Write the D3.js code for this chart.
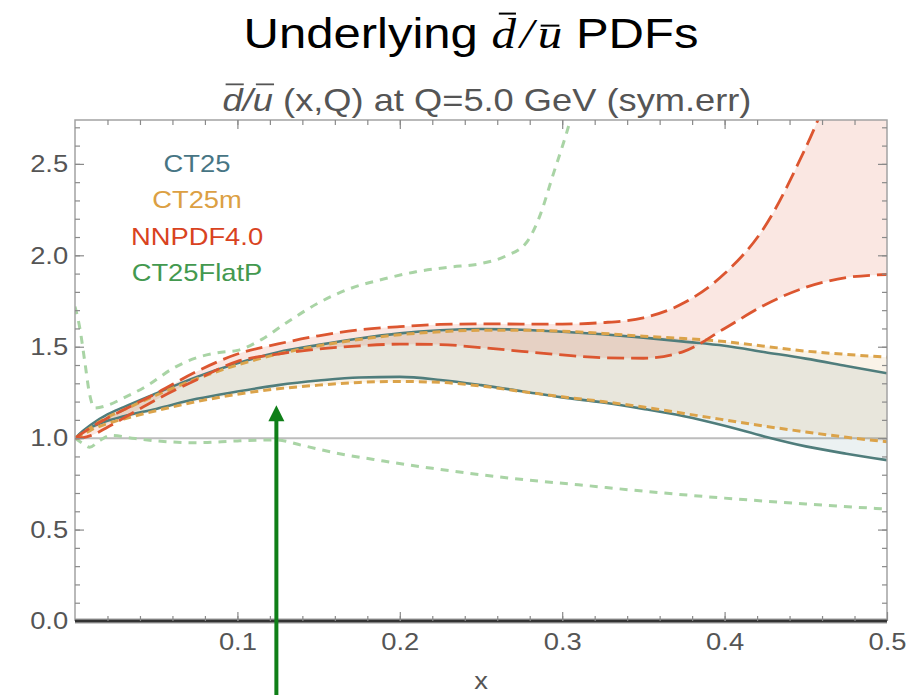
<!DOCTYPE html>
<html>
<head>
<meta charset="utf-8">
<script src="https://cdn.jsdelivr.net/npm/d3@7"></script>
<style>
  html, body { margin: 0; padding: 0; background: #fff; }
  svg { display: block; }
</style>
</head>
<body>
<svg id="chart" width="924" height="695"></svg>
<script>
// ---- data: dbar/ubar ratio at Q = 5 GeV, symmetric error bands ----
const xGrid = [0, 0.005, 0.01, 0.02, 0.03, 0.05, 0.075, 0.1, 0.125, 0.15, 0.175, 0.2,
               0.225, 0.25, 0.275, 0.3, 0.325, 0.35, 0.375, 0.4, 0.425, 0.45, 0.475, 0.5];

const ct25Upper  = [1.0, 1.04, 1.075, 1.13, 1.17, 1.245, 1.335, 1.41, 1.47, 1.51, 1.545, 1.573,
                    1.59, 1.597, 1.593, 1.582, 1.568, 1.55, 1.528, 1.505, 1.47, 1.435, 1.395, 1.355];
const ct25Lower  = [1.0, 1.035, 1.06, 1.095, 1.12, 1.16, 1.215, 1.255, 1.29, 1.315, 1.332, 1.335,
                    1.318, 1.29, 1.257, 1.223, 1.195, 1.16, 1.12, 1.068, 1.008, 0.955, 0.915, 0.88];

const ct25mUpper = [1.0, 1.03, 1.06, 1.115, 1.155, 1.235, 1.325, 1.4, 1.46, 1.505, 1.54, 1.566,
                    1.582, 1.59, 1.59, 1.585, 1.573, 1.557, 1.545, 1.528, 1.502, 1.476, 1.458, 1.443];
const ct25mLower = [1.0, 1.02, 1.045, 1.08, 1.105, 1.15, 1.2, 1.24, 1.27, 1.29, 1.305, 1.31,
                    1.305, 1.285, 1.255, 1.226, 1.2, 1.17, 1.135, 1.1, 1.065, 1.034, 1.005, 0.98];

const nnpdfUpper = [1.0, 1.03, 1.06, 1.11, 1.155, 1.245, 1.365, 1.46, 1.515, 1.56, 1.592, 1.61,
                    1.622, 1.625, 1.624, 1.624, 1.632, 1.658, 1.74, 1.9, 2.16, 2.59, 3.1, 3.5];
const nnpdfLower = [1.0, 1.003, 1.015, 1.06, 1.11, 1.21, 1.32, 1.42, 1.46, 1.488, 1.505, 1.514,
                    1.512, 1.495, 1.475, 1.455, 1.44, 1.437, 1.475, 1.6, 1.73, 1.825, 1.878, 1.895];

const flatPUpperX = [0, 0.003, 0.006, 0.009, 0.012, 0.02, 0.03, 0.045, 0.06, 0.075, 0.09, 0.1,
                     0.115, 0.13, 0.15, 0.17, 0.19, 0.21, 0.23, 0.25, 0.265, 0.278, 0.286, 0.294, 0.305, 0.315];
const flatPUpper  = [1.72, 1.6, 1.42, 1.24, 1.165, 1.18, 1.22, 1.29, 1.38, 1.44, 1.47, 1.48,
                     1.54, 1.63, 1.74, 1.82, 1.87, 1.91, 1.935, 1.955, 1.995, 2.07, 2.21, 2.43, 2.74, 3.1];
const flatPLowerX = [0, 0.005, 0.009, 0.015, 0.022, 0.035, 0.05, 0.075, 0.1, 0.124, 0.14, 0.16,
                     0.19, 0.22, 0.25, 0.28, 0.31, 0.35, 0.4, 0.45, 0.5];
const flatPLower  = [1.0, 0.97, 0.95, 0.985, 1.015, 1.0, 0.985, 0.975, 0.985, 0.99, 0.96, 0.92,
                     0.875, 0.835, 0.8, 0.77, 0.745, 0.71, 0.672, 0.64, 0.612];

const legendLabels = ["CT25", "CT25m", "NNPDF4.0", "CT25FlatP"];
const yMajorTicks = [0, 0.5, 1.0, 1.5, 2.0, 2.5];
const xMajorTicks = [0.1, 0.2, 0.3, 0.4, 0.5];
const referenceLevel = 1.0;
const arrowX = 0.124, arrowTip = 1.18;

// ---- layout ----
const W = 924, H = 695;
const SANS = "'Liberation Sans', Arial, Helvetica, sans-serif";
const SERIF = "'Liberation Serif', 'Times New Roman', serif";
const STRETCH = 1.14;   // exported glyphs run slightly wide

const x = d3.scaleLinear().domain([0, 0.5]).range([75, 887]);
const y = d3.scaleLinear().domain([0, 2.74]).range([621, 120]);

const colors = {
  ct25: "#4f7d7c", ct25m: "#dba34a", nnpdf: "#dc5630", flat: "#a9d4a5",
  ct25Text: "#477584", ct25mText: "#dca043", nnpdfText: "#d9431f", flatText: "#43994f"
};

const svg = d3.select("#chart");

svg.append("defs").append("clipPath").attr("id", "plotClip")
  .append("rect")
  .attr("x", x(0)).attr("y", y(2.74))
  .attr("width", x(0.5) - x(0)).attr("height", y(0) - y(2.74));

// ---- titles ----
function stretchedText(parent, cx, baseline, size, fill, anchor, stretch) {
  const s = stretch || STRETCH;
  const g = parent.append("g").attr("transform", `translate(${cx},${baseline}) scale(${s},1)`);
  const t = g.append("text").attr("x", 0).attr("y", 0)
    .attr("font-family", SANS).attr("font-size", size).attr("fill", fill)
    .attr("text-anchor", anchor || "middle");
  return { g, t };
}

// main title with d-bar / u-bar in math italic
{
  const size = 43;
  const { g, t } = stretchedText(svg, 471, 48, size, "#000");
  t.append("tspan").text("Underlying ");
  t.append("tspan").attr("font-family", SERIF).attr("font-style", "italic").text("d\u200A/\u200Au");
  t.append("tspan").text(" PDFs");
  const node = t.node();
  const dExt = node.getExtentOfChar(11);
  const uExt = node.getExtentOfChar(15);
  g.append("line").attr("x1", dExt.x + 0.30 * dExt.width).attr("x2", dExt.x + 1.0 * dExt.width)
    .attr("y1", -0.80 * size).attr("y2", -0.80 * size).attr("stroke", "#000").attr("stroke-width", 2);
  g.append("line").attr("x1", uExt.x + 0.12 * uExt.width).attr("x2", uExt.x + 0.88 * uExt.width)
    .attr("y1", -0.52 * size).attr("y2", -0.52 * size).attr("stroke", "#000").attr("stroke-width", 2);
}

// plot label
{
  const size = 31;
  const { g, t } = stretchedText(svg, 487, 111, size, "#555", "middle", 1.17);
  t.append("tspan").attr("font-style", "italic").text("d");
  t.append("tspan").attr("font-style", "italic").text("/");
  t.append("tspan").attr("font-style", "italic").text("u");
  t.append("tspan").text(" (x,Q) at Q=5.0 GeV (sym.err)");
  const node = t.node();
  [0, 2].forEach(i => {
    const e = node.getExtentOfChar(i);
    g.append("line").attr("x1", e.x + 0.15 * e.width).attr("x2", e.x + 1.05 * e.width)
      .attr("y1", -0.86 * size).attr("y2", -0.86 * size)
      .attr("stroke", "#555").attr("stroke-width", 1.8);
  });
}

// ---- reference line at ratio 1 ----
svg.append("line")
  .attr("x1", x(0)).attr("x2", x(0.5))
  .attr("y1", y(referenceLevel)).attr("y2", y(referenceLevel))
  .attr("stroke", "#bdbdbd").attr("stroke-width", 2);

// ---- bands ----
const plot = svg.append("g").attr("clip-path", "url(#plotClip)");

function band(lower, upper, fill, opacity) {
  const area = d3.area().curve(d3.curveMonotoneX)
    .x((d, i) => x(xGrid[i])).y0((d, i) => y(lower[i])).y1((d, i) => y(upper[i]));
  plot.append("path").datum(xGrid).attr("d", area)
    .attr("fill", fill).attr("fill-opacity", opacity).attr("stroke", "none");
}
band(ct25Lower, ct25Upper, "#5b8f93", 0.12);
band(ct25mLower, ct25mUpper, "#d9a050", 0.13);
band(nnpdfLower, nnpdfUpper, "#dd5530", 0.14);

// ---- curves ----
function curve(xs, ys, color, width, dash) {
  const line = d3.line().curve(d3.curveMonotoneX)
    .x((d, i) => x(xs[i])).y((d, i) => y(ys[i]));
  const p = plot.append("path").datum(xs).attr("d", line)
    .attr("fill", "none").attr("stroke", color).attr("stroke-width", width);
  if (dash) p.attr("stroke-dasharray", dash);
  return p;
}
curve(flatPUpperX, flatPUpper, colors.flat, 3, "8,7");
curve(flatPLowerX, flatPLower, colors.flat, 3, "8,7");
curve(xGrid, ct25Upper, colors.ct25, 2.6);
curve(xGrid, ct25Lower, colors.ct25, 2.6);
curve(xGrid, ct25mUpper, colors.ct25m, 3, "8,5");
curve(xGrid, ct25mLower, colors.ct25m, 3, "8,5");
curve(xGrid, nnpdfUpper, colors.nnpdf, 2.8, "17,7");
curve(xGrid, nnpdfLower, colors.nnpdf, 2.8, "17,7");

// ---- frame and axes ----
const frameColor = "#a3a3a3", tickColor = "#8a8a8a";
const frame = svg.append("g");
frame.append("path")
  .attr("d", `M${x(0)},${y(0)}V${y(2.74)}H${x(0.5)}V${y(0)}`)
  .attr("fill", "none").attr("stroke", frameColor).attr("stroke-width", 1.5);

const yMinor = d3.range(0, 27.5).map(v => v / 10).filter(v => v <= 2.74);
const xMinor = d3.range(1, 25).map(v => v / 50);

function styleAxis(g) {
  g.select(".domain").remove();
  g.selectAll(".tick line").attr("stroke", tickColor).attr("stroke-width", 1.2);
  g.selectAll(".tick text").attr("fill", "#555").attr("font-family", SANS).attr("font-size", 24);
}

// left
svg.append("g").attr("transform", `translate(${x(0)},0)`)
  .call(d3.axisLeft(y).tickValues(yMinor).tickSize(-5).tickSizeOuter(0).tickFormat(""))
  .call(styleAxis);
svg.append("g").attr("transform", `translate(${x(0)},0)`)
  .call(d3.axisLeft(y).tickValues(yMajorTicks).tickSize(-9).tickSizeOuter(0).tickPadding(6)
    .tickFormat(d3.format(".1f")))
  .call(styleAxis)
  .call(g => g.selectAll(".tick text").attr("transform", `scale(${STRETCH},1)`));
// right
svg.append("g").attr("transform", `translate(${x(0.5)},0)`)
  .call(d3.axisRight(y).tickValues(yMinor).tickSize(-5).tickSizeOuter(0).tickFormat(""))
  .call(styleAxis);
svg.append("g").attr("transform", `translate(${x(0.5)},0)`)
  .call(d3.axisRight(y).tickValues(yMajorTicks).tickSize(-9).tickSizeOuter(0).tickFormat(""))
  .call(styleAxis);
// top
svg.append("g").attr("transform", `translate(0,${y(2.74)})`)
  .call(d3.axisTop(x).tickValues(xMinor).tickSize(-5).tickSizeOuter(0).tickFormat(""))
  .call(styleAxis);
svg.append("g").attr("transform", `translate(0,${y(2.74)})`)
  .call(d3.axisTop(x).tickValues(xMajorTicks.slice(0, 4)).tickSize(-9).tickSizeOuter(0).tickFormat(""))
  .call(styleAxis);

// x axis drawn at ratio 0
svg.append("line").attr("x1", x(0)).attr("x2", x(0.5)).attr("y1", y(0)).attr("y2", y(0))
  .attr("stroke", "#9a9a9a").attr("stroke-width", 5);
svg.append("line").attr("x1", x(0)).attr("x2", x(0.5)).attr("y1", y(0)).attr("y2", y(0))
  .attr("stroke", "#333").attr("stroke-width", 2.5);
svg.append("g").attr("transform", `translate(0,${y(0)})`)
  .call(d3.axisBottom(x).tickValues(xMinor).tickSize(-5).tickSizeOuter(0).tickFormat(""))
  .call(styleAxis);
svg.append("g").attr("transform", `translate(0,${y(0)})`)
  .call(d3.axisBottom(x).tickValues(xMajorTicks).tickSize(-9).tickSizeOuter(0).tickPadding(12)
    .tickFormat(d3.format(".1f")))
  .call(styleAxis)
  .call(g => g.selectAll(".tick text").attr("transform", `scale(${STRETCH},1)`));

// axis title
{
  const { t } = stretchedText(svg, (x(0) + x(0.5)) / 2, 689, 24, "#555");
  t.text("x");
}

// ---- legend ----
const legendColors = [colors.ct25Text, colors.ct25mText, colors.nnpdfText, colors.flatText];
legendLabels.forEach((label, i) => {
  const { t } = stretchedText(svg, 197, 172 + i * 36.3, 24, legendColors[i]);
  t.text(label);
});

// ---- arrow marking x of interest ----
{
  const ax = x(arrowX), tip = y(arrowTip);
  const headLen = 16, headHalf = 8;
  const arrowColor = "#0f7f18";
  svg.append("line").attr("x1", ax).attr("x2", ax).attr("y1", H).attr("y2", tip + headLen - 1)
    .attr("stroke", arrowColor).attr("stroke-width", 4);
  svg.append("path")
    .attr("d", `M${ax},${tip}L${ax - headHalf},${tip + headLen}L${ax + headHalf},${tip + headLen}Z`)
    .attr("fill", arrowColor);
}
</script>
</body>
</html>
